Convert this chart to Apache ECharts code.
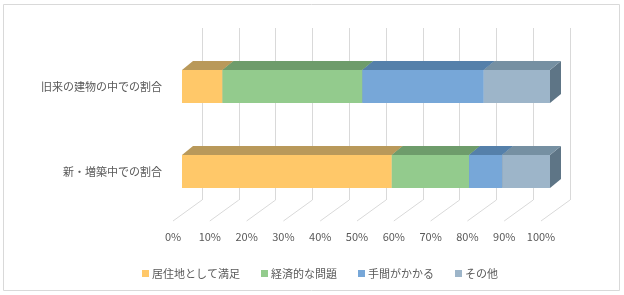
<!DOCTYPE html>
<html>
<head>
<meta charset="utf-8">
<script src="https://cdn.jsdelivr.net/npm/echarts@6/dist/echarts.min.js"></script>
<style>
  html, body { margin: 0; padding: 0; background: #fff; }
  #chart { width: 624px; height: 295px; }
</style>
</head>
<body>
<div id="chart"></div>
<script>
const categories = ['旧来の建物の中での割合', '新・増築中での割合']
const seriesNames = ['居住地として満足', '経済的な問題', '手間がかかる', 'その他']
const satisfied = [11, 57]
const economic = [38, 21]
const troublesome = [33, 9]
const other = [18, 13]
const tickValues = [0, 10, 20, 30, 40, 50, 60, 70, 80, 90, 100]

const values = [satisfied, economic, troublesome, other]
const frontColors = ['#FFC869', '#93CB8D', '#77A7D8', '#9DB5C9']
const topColors = ['#B9995A', '#6E9C6B', '#5580AA', '#7690A2']
const sideColors = ['#A68A50', '#5F8A5D', '#4A7196', '#5E7586']
const font = '"Noto Sans CJK JP", "Noto Sans", sans-serif'
const textColor = '#595959'

const chart = echarts.init(document.getElementById('chart'))

// running totals so every segment knows where it starts
const starts = categories.map(() => 0)
const barSeries = values.map((arr, k) => {
    const data = arr.map((v, i) => {
        const item = [starts[i], starts[i] + v, i]
        starts[i] += v
        return item
    })
    return {
        name: seriesNames[k],
        type: 'custom',
        xAxisIndex: 0,
        yAxisIndex: 0,
        itemStyle: { color: frontColors[k] },
        encode: { x: [0, 1], y: 2 },
        data: data,
        z: 3 + k,
        renderItem: (params, api) => {
            const p0 = api.coord([api.value(0), api.value(2)])
            const p1 = api.coord([api.value(1), api.value(2)])
            const h = api.size([0, 1])[1] * 0.39
            const dx = 11, dy = -9
            const x0 = p0[0], x1 = p1[0]
            const yt = p0[1] - h / 2, yb = p0[1] + h / 2
            return {
                type: 'group',
                children: [
                    {
                        type: 'polygon',
                        shape: { points: [[x1, yt], [x1 + dx, yt + dy], [x1 + dx, yb + dy], [x1, yb]] },
                        style: { fill: sideColors[k] },
                    },
                    {
                        type: 'polygon',
                        shape: { points: [[x0, yt], [x1, yt], [x1 + dx, yt + dy], [x0 + dx, yt + dy]] },
                        style: { fill: topColors[k] },
                    },
                    {
                        type: 'rect',
                        shape: { x: x0, y: yt, width: x1 - x0, height: h },
                        style: { fill: frontColors[k] },
                    },
                ],
            }
        },
    }
})

const option = {
    animation: false,
    graphic: [
        {
            type: 'rect',
            shape: { x: 3.5, y: 4.5, width: 616, height: 286 },
            style: { fill: 'none', stroke: '#d9d9d9', lineWidth: 1 },
            z: -1,
        },
    ],
    legend: {
        left: 137,
        top: 263,
        icon: 'rect',
        itemWidth: 7,
        itemHeight: 7,
        itemGap: 21,
        data: seriesNames,
        textStyle: { color: textColor, fontSize: 11, fontFamily: font, padding: [0, 0, 0, -2] },
    },
    grid: [
        { left: 182, width: 368, top: 44, height: 170 },
        { left: 202, width: 368, top: 28, height: 172 },
        { left: 173, width: 368, top: 211, height: 10 },
    ],
    xAxis: [
        {
            gridIndex: 0, type: 'value', min: 0, max: 100,
            axisLine: { show: false }, axisTick: { show: false },
            axisLabel: { show: false }, splitLine: { show: false },
        },
        {
            gridIndex: 1, type: 'value', min: 0, max: 100, interval: 10,
            axisLine: { show: false }, axisTick: { show: false },
            axisLabel: { show: false },
            splitLine: { show: true, lineStyle: { color: '#d9d9d9', width: 1 } },
        },
        {
            gridIndex: 2, type: 'value', min: 0, max: 100, interval: 10,
            axisLine: { show: false }, axisTick: { show: false },
            splitLine: { show: false },
            axisLabel: {
                margin: 10, color: textColor, fontSize: 11, fontFamily: font,
                formatter: '{value}%',
            },
        },
    ],
    yAxis: [
        {
            gridIndex: 0, type: 'category', data: categories, inverse: true,
            axisLine: { show: false }, axisTick: { show: false },
            axisLabel: {
                margin: 20, color: textColor, fontSize: 11, fontFamily: font,
                padding: [10, 0, 0, 0],
            },
        },
        { gridIndex: 1, type: 'value', min: 0, max: 1, show: false },
        { gridIndex: 2, type: 'value', min: 0, max: 1, show: false },
    ],
    series: [
        {
            // floor lines running forward from the back wall
            type: 'custom',
            xAxisIndex: 1,
            yAxisIndex: 1,
            data: tickValues,
            z: 1,
            silent: true,
            renderItem: (params, api) => {
                const p = api.coord([api.value(0), 0])
                return {
                    type: 'line',
                    shape: { x1: p[0], y1: p[1], x2: p[0] - 29, y2: p[1] + 21 },
                    style: { stroke: '#d9d9d9', lineWidth: 1 },
                }
            },
        },
        ...barSeries,
    ],
}

chart.setOption(option)
</script>
</body>
</html>
